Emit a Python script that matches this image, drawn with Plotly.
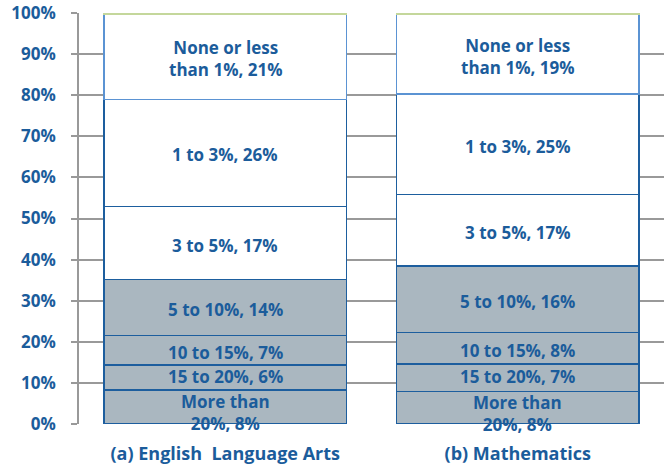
import plotly.graph_objects as go

# Subjects on the x axis
subjects = ["(a) English  Language Arts", "(b) Mathematics"]

# Segment labels, bottom to top
bands = [
    "More than<br>20%",
    "15 to 20%",
    "10 to 15%",
    "5 to 10%",
    "3 to 5%",
    "1 to 3%",
    "None or less<br>than 1%",
    "",
]

# segment heights (%), bottom to top
ela_values = [8.3, 6.0, 7.2, 13.6, 17.8, 26.1, 20.6, 0.4]
math_values = [7.9, 6.7, 7.7, 16.2, 17.3, 24.5, 19.3, 0.4]

# rounded shares printed on the bars
ela_labels = ["8%", "6%", "7%", "14%", "17%", "26%", "21%", ""]
math_labels = ["8%", "7%", "8%", "16%", "17%", "25%", "19%", ""]

ytick_vals = [0, 10, 20, 30, 40, 50, 60, 70, 80, 90, 100]
ytick_text = ["0%", "10%", "20%", "30%", "40%", "50%", "60%", "70%", "80%", "90%", "100%"]

blue_text = "#1b5c9b"
fills = ["#aab7c0"] * 4 + ["#ffffff"] * 3 + ["#c4d79b"]
edges = ["#1d5e9e"] * 6 + ["#5b93d3", "#c4d79b"]
bold = dict(family="Open Sans", color=blue_text, weight="bold")
# small nudges so the crowded bottom labels don't collide
shifts = [-6, 1, -2, -2, -2, -2, -2, 0]

fig = go.Figure()
for i, band in enumerate(bands):
    fig.add_trace(
        go.Bar(
            x=subjects,
            y=[ela_values[i], math_values[i]],
            marker=dict(color=fills[i], line=dict(color=edges[i], width=1.5)),
            name=band,
            showlegend=False,
            hoverinfo="skip",
        )
    )

# labels in the middle of each segment
for subj, vals, labs in [(subjects[0], ela_values, ela_labels), (subjects[1], math_values, math_labels)]:
    base = 0
    for band, v, lab, sh in zip(bands, vals, labs, shifts):
        if lab:
            fig.add_annotation(
                x=subj,
                y=base + v / 2,
                text=f"{band}, {lab}",
                showarrow=False,
                yshift=sh,
                font=dict(size=17, **bold),
            )
        base += v

fig.update_layout(
    barmode="stack",
    bargap=0.17,
    width=667,
    height=468,
    margin=dict(l=79, r=3, t=13, b=44),
    plot_bgcolor="white",
    paper_bgcolor="white",
    font=dict(size=17, **bold),
)
fig.update_xaxes(
    showgrid=False,
    ticks="",
    tickfont=dict(size=18, **bold),
    ticklabelstandoff=17,
    automargin=False,
)
fig.update_yaxes(
    range=[0, 100],
    tickvals=ytick_vals,
    ticktext=ytick_text,
    showgrid=True,
    gridcolor="#999999",
    gridwidth=1.5,
    showline=True,
    linecolor="#999999",
    linewidth=1.5,
    ticks="outside",
    ticklen=6,
    tickcolor="#999999",
    tickwidth=1.5,
    ticklabelstandoff=12,
    tickfont=dict(size=17, **bold),
    zeroline=False,
    automargin=False,
)

fig.write_html(
    "out.html",
    config={"displayModeBar": False},
    post_script="document.body.style.margin='0';",
)
